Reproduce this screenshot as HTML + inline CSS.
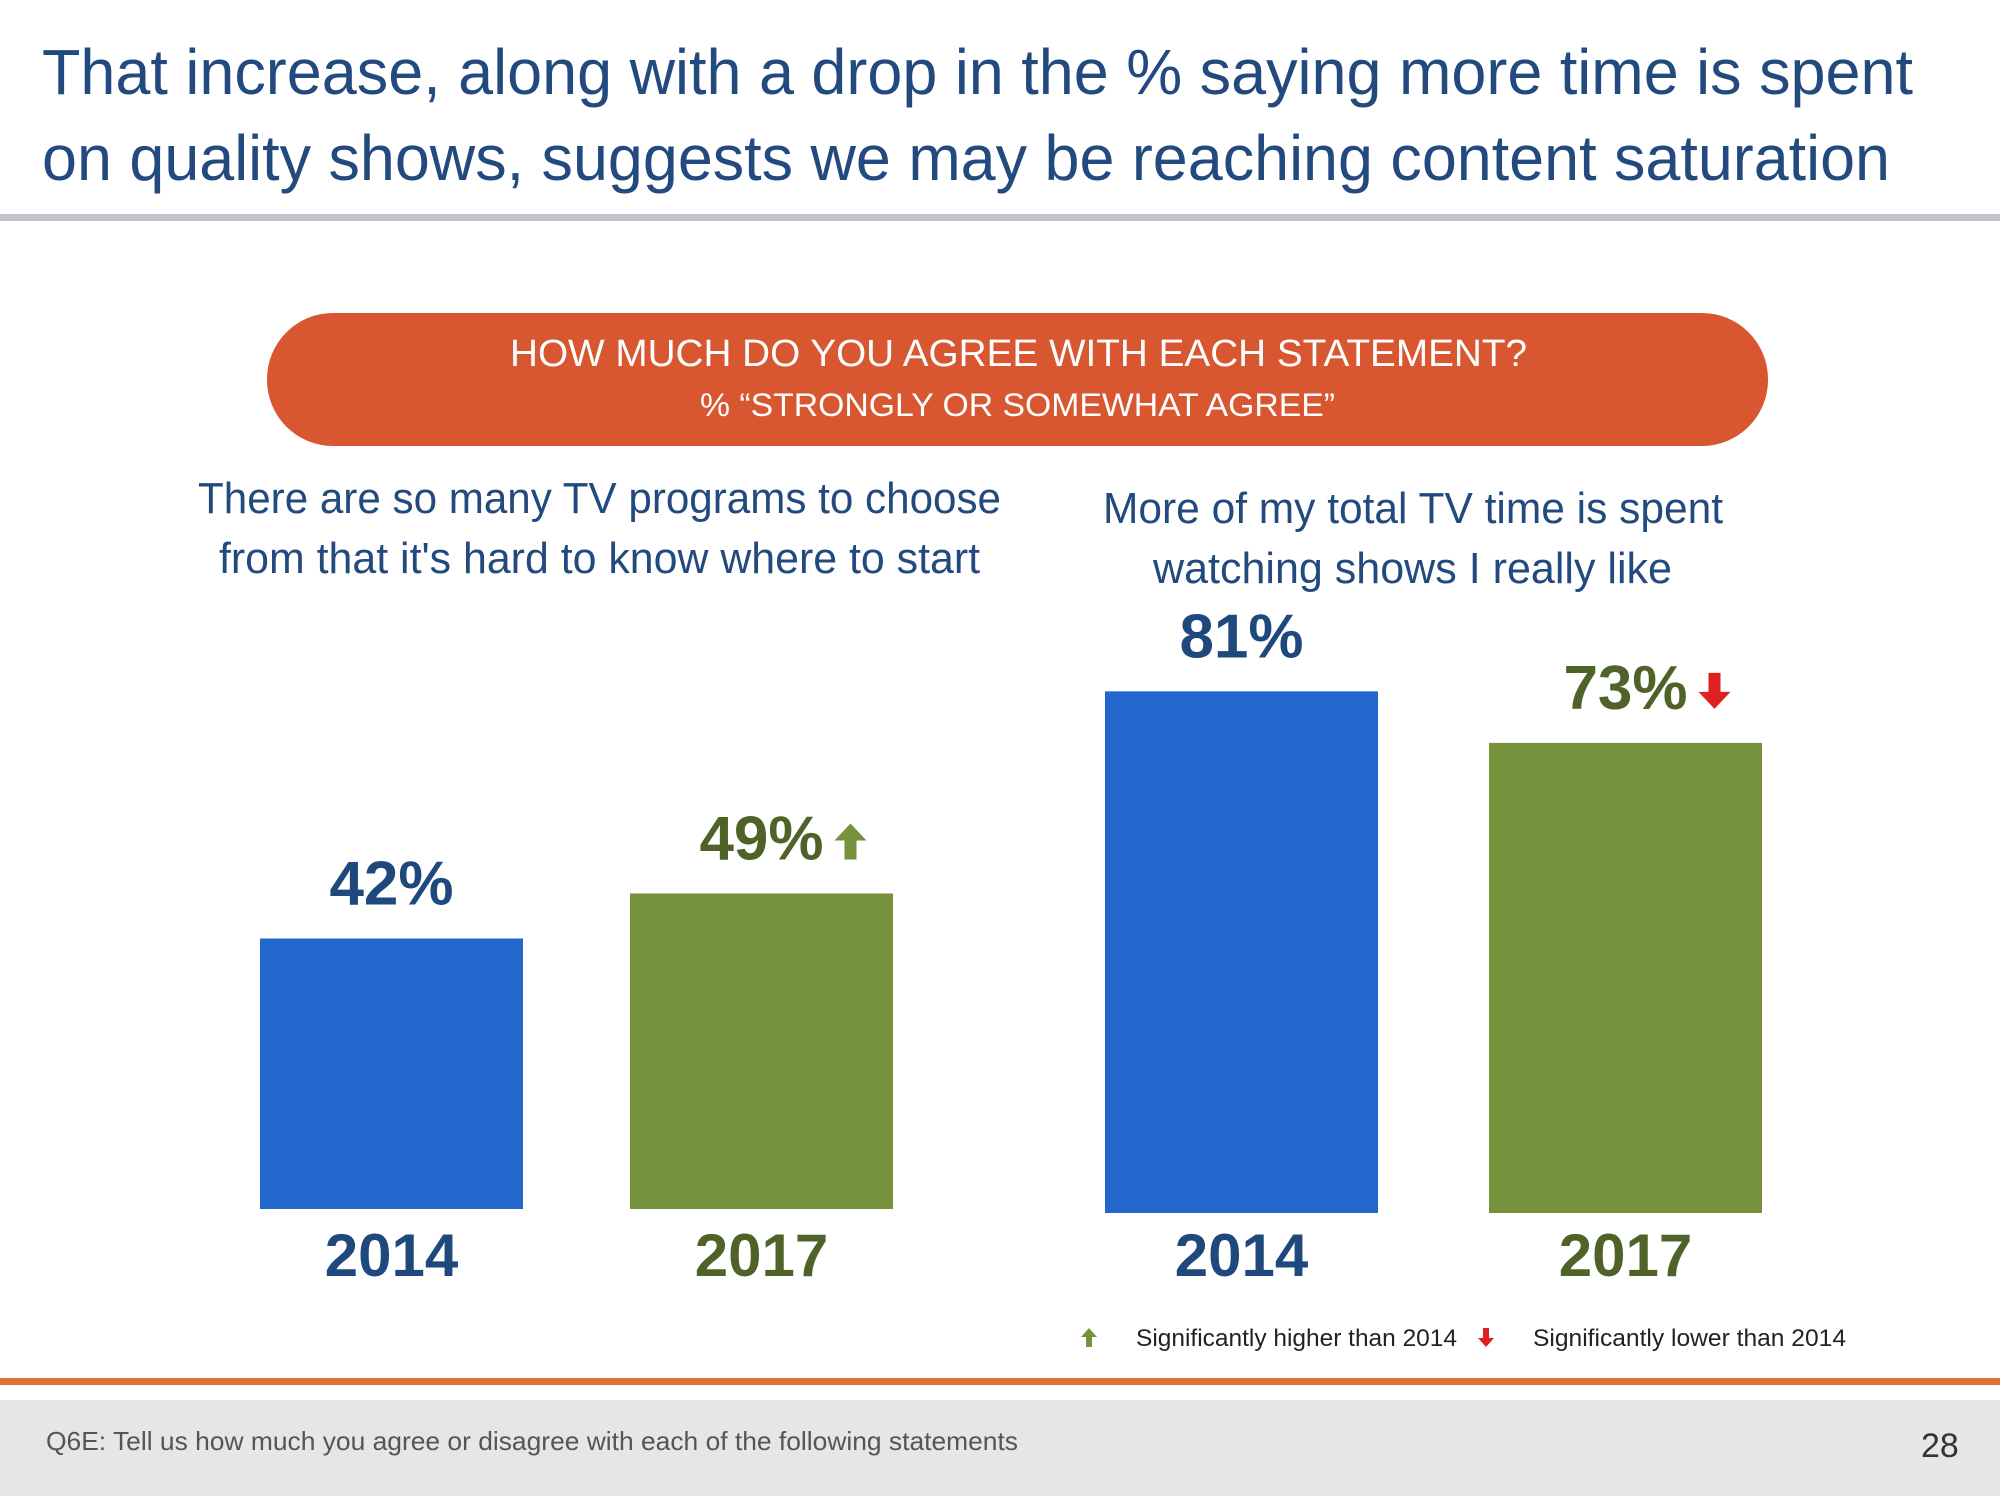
<!DOCTYPE html>
<html><head><meta charset="utf-8"><style>
html,body{margin:0;padding:0;background:#fff;}
svg{display:block;font-family:"Liberation Sans",sans-serif;}
</style></head><body>
<svg id="slide" width="2000" height="1500" viewBox="0 0 2000 1500" xmlns="http://www.w3.org/2000/svg">
<rect width="2000" height="1500" fill="#fff"/>
<g fill="#234a7e" font-size="64">
<text x="42" y="94" textLength="1871" lengthAdjust="spacingAndGlyphs">That increase, along with a drop in the % saying more time is spent</text>
<text x="42" y="180" textLength="1848" lengthAdjust="spacingAndGlyphs">on quality shows, suggests we may be reaching content saturation</text>
</g>
<rect x="0" y="214" width="2000" height="7" fill="#c2c2c8"/>
<g>
<rect x="267" y="313" width="1501" height="133" rx="66" fill="#d85630"/>
<text x="510" y="366" font-size="38" fill="#fff" textLength="1017" lengthAdjust="spacingAndGlyphs">HOW MUCH DO YOU AGREE WITH EACH STATEMENT?</text>
<text x="700" y="416" font-size="32" fill="#fff" textLength="635" lengthAdjust="spacingAndGlyphs">% “STRONGLY OR SOMEWHAT AGREE”</text>
</g>
<g fill="#234a7e" font-size="44">
<text x="198" y="513" textLength="803" lengthAdjust="spacingAndGlyphs">There are so many TV programs to choose</text>
<text x="219" y="573" textLength="761" lengthAdjust="spacingAndGlyphs">from that it's hard to know where to start</text>
</g>
<g fill="#234a7e" font-size="44">
<text x="1103" y="523" textLength="620" lengthAdjust="spacingAndGlyphs">More of my total TV time is spent</text>
<text x="1153" y="583" textLength="519" lengthAdjust="spacingAndGlyphs">watching shows I really like</text>
</g>
<g id="chart"></g>
<g font-size="24" fill="#222">
<path d="M1089,1328 l-8,9 h5 v10 h6 v-10 h5 z" fill="#76923c"/>
<text x="1136" y="1346" textLength="321" lengthAdjust="spacingAndGlyphs">Significantly higher than 2014</text>
<path d="M1486,1347 l-8,-9 h5 v-10 h6 v10 h5 z" fill="#e02020"/>
<text x="1533" y="1346" textLength="313" lengthAdjust="spacingAndGlyphs">Significantly lower than 2014</text>
</g>
<rect x="0" y="1378" width="2000" height="7" fill="#e07035"/>
<rect x="0" y="1400" width="2000" height="96" fill="#e6e6e6"/>
<text x="46" y="1450" font-size="26" fill="#555" textLength="972" lengthAdjust="spacingAndGlyphs">Q6E: Tell us how much you agree or disagree with each of the following statements</text>
<text x="1921" y="1457" font-size="34" fill="#333">28</text>
</svg>
<script>
const groups = ["left", "right"];
const years = ["2014", "2017"];
const values = [[42, 49], [81, 73]];
const sigFlags = [["", "up"], ["", "down"]];

const NS = "http://www.w3.org/2000/svg";
const chart = document.getElementById("chart");
const pxPerPct = 6.44;
const baselines = [1209, 1213];
const barX = [[260, 630], [1105, 1489]];
const barW = [263, 273];
const fills = ["#2268cc", "#76923c"];
const labelFills = ["#1f497d", "#4f6228"];
function yScale(g, v) { return baselines[g] - v * pxPerPct; }

groups.forEach((gname, g) => {
  years.forEach((yr, i) => {
    const v = values[g][i];
    const x = barX[g][i], w = barW[g];
    const top = yScale(g, v);
    const r = document.createElementNS(NS, "rect");
    r.setAttribute("x", x); r.setAttribute("y", top);
    r.setAttribute("width", w); r.setAttribute("height", baselines[g] - top);
    r.setAttribute("fill", fills[i]);
    
    
    chart.appendChild(r);

    const cx = x + w / 2;
    const t = document.createElementNS(NS, "text");
    t.setAttribute("x", cx); t.setAttribute("y", top - 34);
    t.setAttribute("text-anchor", "middle");
    t.setAttribute("font-size", "62"); t.setAttribute("font-weight", "bold");
    t.setAttribute("fill", labelFills[i]);
    t.textContent = v + "%";
    
    
    chart.appendChild(t);

    const sig = sigFlags[g][i];
    if (sig) {
      const ax = cx + 89, ay = top - 34;
      const p = document.createElementNS(NS, "path");
      if (sig === "up") {
        p.setAttribute("d", `M${ax},${ay-36} l-16,17 h10 v19 h12 v-19 h10 z`);
        p.setAttribute("fill", "#76923c");
      } else {
        p.setAttribute("d", `M${ax},${ay} l-16,-17 h10 v-19 h12 v19 h10 z`);
        p.setAttribute("fill", "#e02020");
      }
      
      
      chart.appendChild(p);
    }

    const yl = document.createElementNS(NS, "text");
    yl.setAttribute("x", cx); yl.setAttribute("y", 1276);
    yl.setAttribute("text-anchor", "middle");
    yl.setAttribute("font-size", "60"); yl.setAttribute("font-weight", "bold");
    yl.setAttribute("fill", labelFills[i]);
    yl.textContent = yr;
    
    
    chart.appendChild(yl);
  });
});
</script>
</body></html>
